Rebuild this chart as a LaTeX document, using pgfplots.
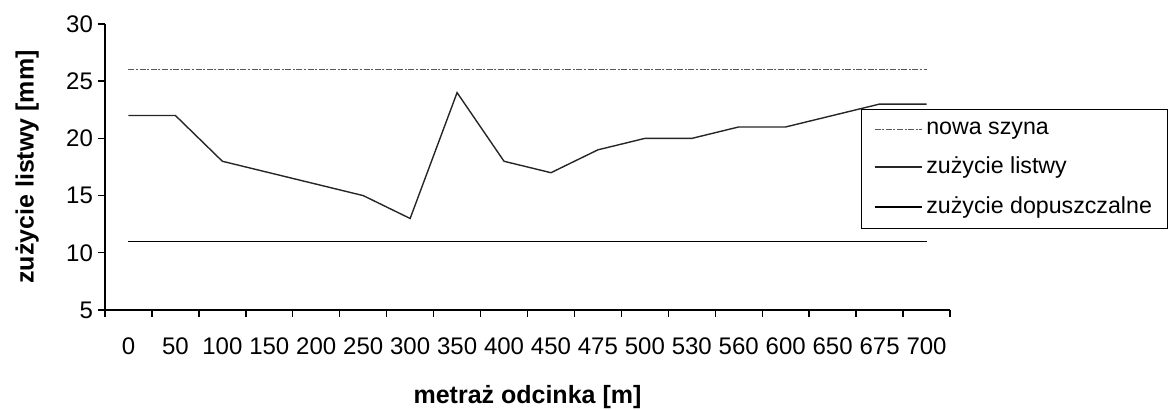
\documentclass[border=0pt]{standalone}
\usepackage{pgfplots}
\pgfplotsset{compat=1.18}
\usepackage{fontspec}
\setmainfont{Liberation Sans}
\begin{document}
\begin{tikzpicture}[x=1pt,y=1pt]
\useasboundingbox (0,0) rectangle (584,205);
\begin{axis}[
  at={(52.5pt,50pt)}, anchor=south west,
  scale only axis, width=422.5pt, height=143pt,
  xmin=-0.5, xmax=17.5, ymin=5, ymax=30,
  ytick={5,10,15,20,25,30},
  xtick={-0.5,0.5,...,17.5},
  x tick label as interval,
  xticklabels={0,50,100,150,200,250,300,350,400,450,475,500,530,560,600,650,675,700},
  axis x line*=bottom, axis y line*=left,
  axis line style={-, line width=0.7pt, black},
  tick align=outside,
  major tick length=3.5pt,
  tick style={black, line width=0.7pt},
  /pgf/number format/assume math mode=true,
  ticklabel style={font=\fontsize{12}{14}\selectfont},
  xticklabel style={anchor=center, yshift=-14.5pt},
  yticklabel style={anchor=east, xshift=1pt},
  xlabel={metraż odcinka [m]},
  ylabel={zużycie listwy [mm]},
  label style={font=\fontsize{12.5}{14}\selectfont\bfseries},
  xlabel style={at={(axis description cs:0.5,-0.304)}, anchor=center},
  ylabel style={at={(axis description cs:-0.092,0.5)}, anchor=center},
  legend style={at={(axis description cs:0.8947,0.703)}, anchor=north west,
    draw=black, line width=0.7pt, font=\fontsize{11.6}{13}\selectfont,
    inner xsep=6pt, inner ysep=4pt, row sep=6pt, cells={anchor=west}},
  legend image code/.code={\draw[#1] (0pt,0pt) -- (23.5pt,0pt);},
]
\addplot[gray!70!black, line width=0.6pt, dash pattern=on 3pt off 0.8pt on 1pt off 0.8pt] coordinates {(0,26) (17,26)};
\addlegendentry{nowa szyna}
\addplot[black!85, line width=0.7pt] coordinates {
(0,22) (1,22) (2,18) (3,17) (4,16) (5,15) (6,13) (7,24) (8,18) (9,17)
(10,19) (11,20) (12,20) (13,21) (14,21) (15,22) (16,23) (17,23)};
\addlegendentry{zużycie listwy}
\addplot[black, line width=0.8pt] coordinates {(0,11) (17,11)};
\addlegendentry{zużycie dopuszczalne}
\end{axis}
\end{tikzpicture}
\end{document}
